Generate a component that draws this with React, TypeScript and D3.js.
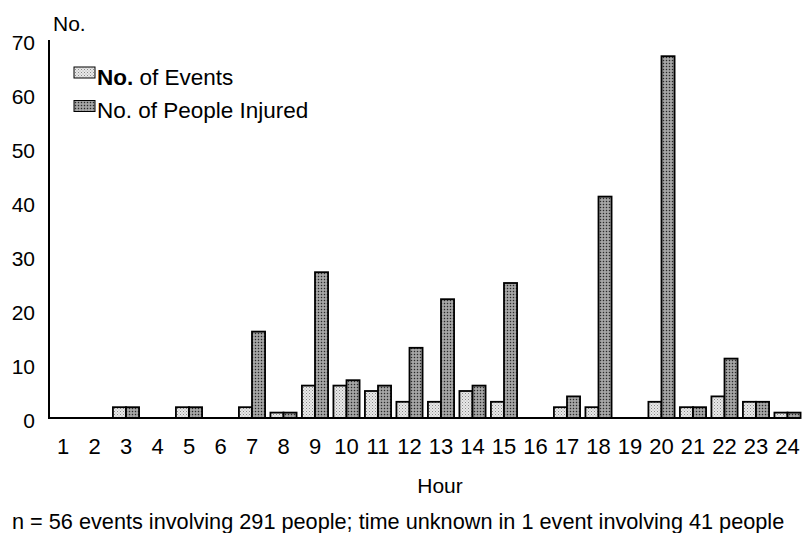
import React from "react";
import * as d3 from "d3";

const hours = ["1","2","3","4","5","6","7","8","9","10","11","12","13","14","15","16","17","18","19","20","21","22","23","24"];
const events = [0,0,2,0,2,0,2,1,6,6,5,3,3,5,3,0,2,2,0,3,2,4,3,1];
const injured = [0,0,2,0,2,0,16,1,27,7,6,13,22,6,25,0,4,41,0,67,2,11,3,1];
const seriesNames = ["No. of Events", "No. of People Injured"];
const yTicks = [0,10,20,30,40,50,60,70];

const W = 803, H = 533;
const FONT = "'Liberation Sans', Arial, Helvetica, sans-serif";

export default function App() {
  const x = d3.scaleBand<string>().domain(hours).range([47.25, 803.25]).paddingInner(0.17).paddingOuter(0.085);
  const xs = d3.scaleBand<string>().domain(["e","i"]).range([0, x.bandwidth()]);
  const y = d3.scaleLinear().domain([0, 70]).range([418, 40]);
  const fills = ["url(#patE)", "url(#patI)"];

  return (
    <svg width={W} height={H} style={{ position: "absolute", left: 0, top: 0, background: "#fff" }} fontFamily={FONT}>
      <defs>
        <pattern id="patE" width="3" height="3" patternUnits="userSpaceOnUse">
          <rect width="3" height="3" fill="#e8e8e8" />
          <rect width="1" height="1" fill="#8a8a8a" />
          <rect x="1.5" y="1.5" width="1" height="1" fill="#a8a8a8" />
        </pattern>
        <pattern id="patI" width="3" height="3" patternUnits="userSpaceOnUse">
          <rect width="3" height="3" fill="#909090" />
          <rect width="1" height="1" fill="#2a2a2a" />
          <rect x="1.5" y="1.5" width="1" height="1" fill="#e4e4e4" />
        </pattern>
      </defs>

      {/* bars */}
      {hours.map((h, i) => {
        const cx = x(h)!;
        return (
          <g key={h}>
            {events[i] > 0 && (
              <rect x={cx + xs("e")!} y={y(events[i])} width={xs.bandwidth()} height={y(0) - y(events[i])}
                fill={fills[0]} stroke="#000" strokeWidth={1.8} />
            )}
            {injured[i] > 0 && (
              <rect x={cx + xs("i")!} y={y(injured[i])} width={xs.bandwidth()} height={y(0) - y(injured[i])}
                fill={fills[1]} stroke="#000" strokeWidth={1.8} />
            )}
          </g>
        );
      })}

      {/* axes */}
      <line x1={49} x2={49} y1={y(70)} y2={y(0)} stroke="#000" strokeWidth={2} />
      <line x1={48} x2={800} y1={y(0)} y2={y(0)} stroke="#000" strokeWidth={2} />

      {yTicks.map(t => (
        <text key={t} x={35} y={y(t) + 3} dy="0.35em" textAnchor="end" fontSize={21} fill="#000">{t}</text>
      ))}
      {hours.map(h => (
        <text key={h} x={x(h)! + x.bandwidth() / 2} y={454} textAnchor="middle" fontSize={22} fill="#000">{h}</text>
      ))}

      <text x={53} y={31} fontSize={21} fill="#000">No.</text>
      <text x={440} y={493} textAnchor="middle" fontSize={21} fill="#000">Hour</text>

      {/* legend */}
      {seriesNames.map((s, i) => (
        <g key={s}>
          <rect x={74} y={67 + i * 33.5} width={21} height={11} fill={fills[i]} stroke="#000" strokeWidth={1} />
          <text x={97} y={85 + i * 33} fontSize={22.5} fill="#000">
            {i === 0 ? (<><tspan fontWeight="bold">No.</tspan>{" of Events"}</>) : s}
          </text>
        </g>
      ))}

      <text x={12} y={529} fontSize={21.7} fill="#000">n = 56 events involving 291 people; time unknown in 1 event involving 41 people</text>
    </svg>
  );
}
